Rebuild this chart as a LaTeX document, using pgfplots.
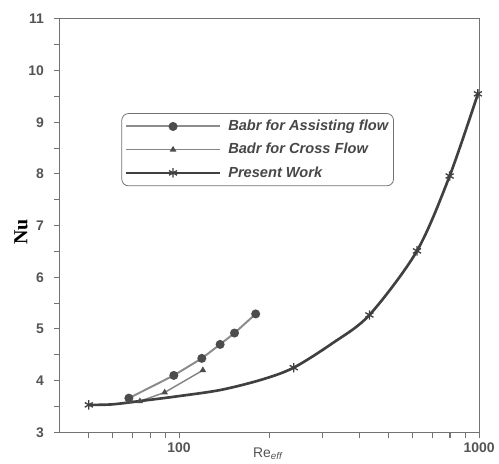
\documentclass[border=0pt]{standalone}
\usepackage{pgfplots}
\pgfplotsset{compat=1.18}
\usepackage{fontspec}
\setmainfont{Liberation Sans}
\newfontfamily\seriffont{Liberation Serif}
\definecolor{axgray}{gray}{0.45}
\definecolor{tickgray}{gray}{0.33}
\definecolor{lineA}{gray}{0.55}
\definecolor{markA}{gray}{0.3}
\definecolor{lineB}{gray}{0.52}
\definecolor{lineC}{gray}{0.25}
\begin{document}
\begin{tikzpicture}
\begin{axis}[
  scale only axis, width=315.75pt, height=311.25pt,
  xmode=log, xmin=40, xmax=1000, ymin=3, ymax=11,
  /pgf/number format/assume math mode=true,
  xtick={100,1000}, xticklabels={100,1000},
  minor xtick={50,60,70,80,90,200,300,400,500,600,700,800,900},
  ytick={3,4,5,6,7,8,9,10,11},
  yticklabels={3,4,5,6,7,8,9,10,11},
  minor ytick={3.5,4.5,5.5,6.5,7.5,8.5,9.5,10.5},
  xtick pos=left, ytick pos=left,
  tick align=outside,
  major tick length=4.5pt, minor tick length=4.5pt,
  axis line style={draw=axgray, line width=0.8pt},
  every tick/.style={draw=axgray, line width=0.8pt},
  every minor tick/.style={draw=axgray, line width=0.8pt},
  tick label style={font=\bfseries\fontsize{10.5}{12}\selectfont, text=tickgray},
  yticklabel style={xshift=-4pt},
  xlabel={Re\textsubscript{\itshape eff}},
  xlabel style={at={(axis description cs:0.496,0)}, anchor=north, yshift=-8pt,
    font=\fontsize{10.5}{12}\selectfont, text=tickgray},
  ylabel={Nu},
  ylabel style={at={(axis description cs:-0.0926,0.484)}, anchor=center,
    font=\seriffont\bfseries\fontsize{15}{17}\selectfont},
  legend style={at={(0.147,0.772)}, anchor=north west,
    draw=black!55, rounded corners=5pt, line width=0.6pt,
    font=\bfseries\itshape\fontsize{11}{13}\selectfont, text=black!72,
    row sep=4pt, column sep=3pt, inner xsep=2pt, inner ysep=3pt},
  legend cell align=left,
  legend image code/.code={\draw[mark repeat=2,mark phase=2] plot coordinates {(0pt,0pt) (35.6pt,0pt) (71.2pt,0pt)};},
]
\addplot[lineA, line width=1.5pt, mark=*, mark size=2.6pt, mark options={fill=markA, draw=markA}]
  coordinates {(68,3.66) (96,4.10) (119,4.43) (137,4.70) (153,4.92) (180,5.29)};
\addlegendentry{Babr for Assisting flow}
\addplot[lineB, line width=1.1pt, mark=triangle*, mark size=1.8pt, mark options={fill=markA, draw=markA}]
  coordinates {(68,3.60) (74,3.60) (89.5,3.77) (120,4.20)};
\addlegendentry{Badr for Cross Flow}
\addplot[lineC, line width=2pt, smooth, mark=asterisk, mark size=3.5pt,
  mark indices={1,7,9,10,11,12}, mark options={line width=1pt},
  legend image post style={mark indices={2}}]
  coordinates {(50,3.53) (60,3.54) (78,3.62) (100,3.70) (138,3.82) (189,4.02)
    (241,4.25) (324,4.72) (431,5.27) (621,6.51) (798,7.96) (991,9.55)};
\addlegendentry{Present Work}
\end{axis}
\path ([shift={(-45pt,-17.25pt)}]current axis.south west) rectangle ([shift={(13.5pt,14.25pt)}]current axis.north east);
\end{tikzpicture}
\end{document}
